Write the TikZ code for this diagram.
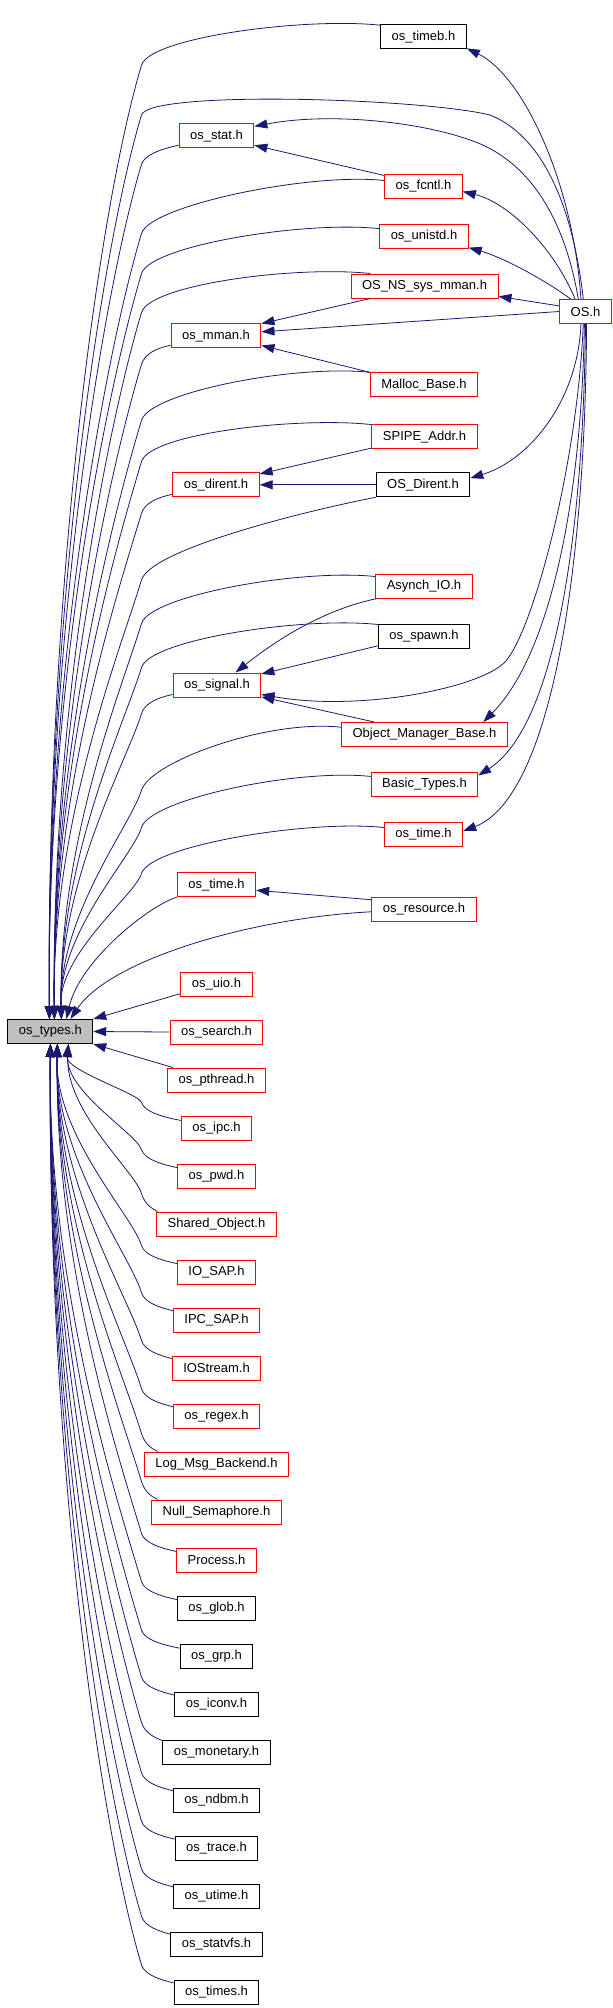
\documentclass[tikz,border=0pt]{standalone}
\usepackage{fontspec}
\setmainfont{Liberation Sans}
\usetikzlibrary{arrows.meta,calc}
\definecolor{edgeblue}{RGB}{25,25,112}
\definecolor{boxgray}{RGB}{191,191,191}
\tikzset{
  hdr/.style={draw=red, line width=1pt, inner xsep=11pt, inner ysep=0pt, minimum height=24pt, font=\fontsize{13}{15}\selectfont},
  hdrext/.style={hdr, draw=black},
  incl/.style={draw=edgeblue, line width=0.8pt, -{Triangle[length=13pt,width=9pt]}}
}
\begin{document}
\begin{tikzpicture}[x=1pt,y=1pt]
\useasboundingbox (0,0) rectangle (613,-2008);
% the header everything includes
\node[hdrext, fill=boxgray] (types) at (50.3,-1031.5) {os\_types.h};
% upper part
\node[hdrext] (timeb) at (423.5,-36.8) {os\_timeb.h};
\node[hdr] (stat) at (216.5,-135.8) {os\_stat.h};
\node[hdr] (fcntl) at (423.5,-186) {os\_fcntl.h};
\node[hdr] (unistd) at (424,-236.5) {os\_unistd.h};
\node[hdr] (nsmman) at (424.5,-286) {OS\_NS\_sys\_mman.h};
\node[hdr] (OS) at (585.5,-311.5) {OS.h};
\node[hdr] (mman) at (216,-335.8) {os\_mman.h};
\node[hdr] (malloc) at (424,-384.8) {Malloc\_Base.h};
\node[hdr] (spipe) at (424.5,-436.8) {SPIPE\_Addr.h};
\node[hdr] (dirent) at (216,-484.8) {os\_dirent.h};
\node[hdrext] (OSdirent) at (423,-484.8) {OS\_Dirent.h};
\node[hdr] (asynch) at (424,-586) {Asynch\_IO.h};
\node[hdrext] (spawn) at (424,-636) {os\_spawn.h};
\node[hdr] (signal) at (217,-685) {os\_signal.h};
\node[hdr] (objmgr) at (424.5,-734.5) {Object\_Manager\_Base.h};
\node[hdr] (basic) at (424.5,-784) {Basic\_Types.h};
\node[hdr] (timeR) at (423.5,-834.5) {os\_time.h};
\node[hdr] (timeL) at (216.5,-884.7) {os\_time.h};
\node[hdr] (resource) at (424,-909) {os\_resource.h};
% left column
\foreach \nm/\txt [count=\i] in {uio/os\_uio.h, search/os\_search.h, pthread/os\_pthread.h,
    ipc/os\_ipc.h, pwd/os\_pwd.h, shobj/Shared\_Object.h, iosap/IO\_SAP.h, ipcsap/IPC\_SAP.h,
    iostream/IOStream.h, regex/os\_regex.h, logmsg/Log\_Msg\_Backend.h,
    nullsem/Null\_Semaphore.h, process/Process.h}
  \node[hdr] (\nm) at (216.5,{-984-48*(\i-1)}) {\txt};
\foreach \nm/\txt [count=\i from 14] in {glob/os\_glob.h, grp/os\_grp.h, iconv/os\_iconv.h,
    monetary/os\_monetary.h, ndbm/os\_ndbm.h, trace/os\_trace.h, utime/os\_utime.h,
    statvfs/os\_statvfs.h, times/os\_times.h}
  \node[hdrext] (\nm) at (216.5,{-984-48*(\i-1)}) {\txt};

% from the right column over the top to os_types
\foreach \nm/\ang/\drop/\sh in {timeb/165/40/42, fcntl/172/53/42, unistd/170/45/42,
    nsmman/167/39/47, malloc/167/48/47, spipe/167/37/47, asynch/169/47/54, spawn/166/43/54,
    objmgr/175/63/54, basic/172/51/54, timeR/170/46/54}
  \draw[incl] let \p1=(\nm.\ang), \p2=([xshift=\sh pt]types.north west),
      \n1={\y1-\drop-(\y2)} in
    (\p1) .. controls ({\x1-75},{\y1+8}) and (150,{\y1-\drop+28}) .. (141.5,{\y1-\drop})
    .. controls ({141.5-0.045*\n1},{\y1-\drop-0.15*\n1}) and ({\x2-3},{\y2+0.45*\n1}) .. (\p2);
% from the left column down to os_types
\foreach \nm/\sh in {stat/42, mman/47, dirent/47, signal/54}
  \draw[incl] let \p1=([yshift=3pt]\nm.south west), \p2=([xshift=\sh pt]types.north west),
      \n1={\y1-19-(\y2)} in
    (\p1) .. controls ({\x1-15},{\y1-3}) and (144.5,{\y1-9}) .. (141.5,{\y1-19})
    .. controls ({141.5-0.045*\n1},{\y1-19-0.15*\n1}) and ({\x2-3},{\y2+0.45*\n1}) .. (\p2);
\draw[incl] let \p2=([xshift=42pt]types.north west), \n1={-115-(\y2)} in
  (OS.100) .. controls (572,-200) and (540,-135) .. (490,-115)
  .. controls (420,-98) and (149,-90) .. (141.5,-115)
  .. controls ({141.5-0.045*\n1},{-115-0.15*\n1}) and ({\x2-3},{\y2+0.45*\n1}) .. (\p2);
\draw[incl] let \p2=([xshift=47pt]types.north west), \n1={-580-(\y2)} in
  (OSdirent.south west) .. controls (300,-512) and (150.5,-550) .. (141.5,-580)
  .. controls ({141.5-0.045*\n1},{-580-0.15*\n1}) and ({\x2-3},{\y2+0.45*\n1}) .. (\p2);
\draw[incl] (timeL.south west) .. controls (150,-905) and (80,-960) .. ([xshift=59pt]types.north west);
\draw[incl] (resource.183) .. controls (250,-918) and (110,-960) .. ([xshift=63pt]types.north west);
\draw[incl] (uio.195) -- (types.north east);
\draw[incl] (search.west) -- (types.east);
\draw[incl] (pthread.164) -- (types.south east);
% from below up to os_types
\foreach \nm/\sh in {ipc/61, pwd/61, shobj/61, iosap/50, ipcsap/50, iostream/50, regex/50,
    logmsg/50, nullsem/50, process/50, glob/43, grp/43, iconv/43, monetary/43, ndbm/43,
    trace/43, utime/43, statvfs/43, times/43}
  \draw[incl] let \p1=(\nm.168), \p2=([xshift=\sh pt]types.south west),
      \n1={\y2-(\y1)-18} in
    (\p1) .. controls ({\x1-0.4*(\x1-141.5)},{\y1+3}) and (144.5,{\y1+8}) .. (141.5,{\y1+18})
    .. controls ({141.5-0.045*\n1},{\y1+18+0.15*\n1}) and ({\x2-3},{\y2-0.45*\n1}) .. (\p2);

% the rest
\draw[incl] (OS.110) .. controls (573,-180) and (522,-75) .. (timeb.-15);
\draw[incl] (OS.120) .. controls (565,-220) and (530,-160) .. (470,-140)
  .. controls (420,-122) and (330,-112) .. (stat.14);
\draw[incl] (fcntl.165) -- (stat.-14);
\draw[incl] (OS.130) .. controls (555,-250) and (510,-203) .. (fcntl.-8);
\draw[incl] (OS.140) .. controls (548,-282) and (505,-258) .. (unistd.-14);
\draw[incl] (OS.168) -- (nsmman.-8);
\draw[incl] (OS.west) -- (mman.5);
\draw[incl] (nsmman.193) -- (mman.15);
\draw[incl] (malloc.167) -- (mman.-12);
\draw[incl] (OS.-110) .. controls (578,-400) and (530,-460) .. (OSdirent.8);
\draw[incl] (spipe.192) -- (dirent.14);
\draw[incl] (OSdirent.west) -- (dirent.east);
\draw[incl] (asynch.195) .. controls (320,-610) and (270,-645) .. (signal.34);
\draw[incl] (spawn.192) -- (signal.14);
\draw[incl] (OS.-100) .. controls (577,-470) and (532,-633) .. (505,-662)
  .. controls (480,-688) and (360,-712) .. (signal.-12);
\draw[incl] (objmgr.166) -- (signal.-15);
\draw[incl] (OS.-95) .. controls (581,-520) and (545,-660) .. (objmgr.12);
\draw[incl] (OS.-90) .. controls (583,-560) and (550,-730) .. (basic.9);
\draw[incl] (OS.-85) .. controls (585,-600) and (545,-800) .. (timeR.5);
\draw[incl] (resource.170) -- (timeL.-8);
\end{tikzpicture}
\end{document}
